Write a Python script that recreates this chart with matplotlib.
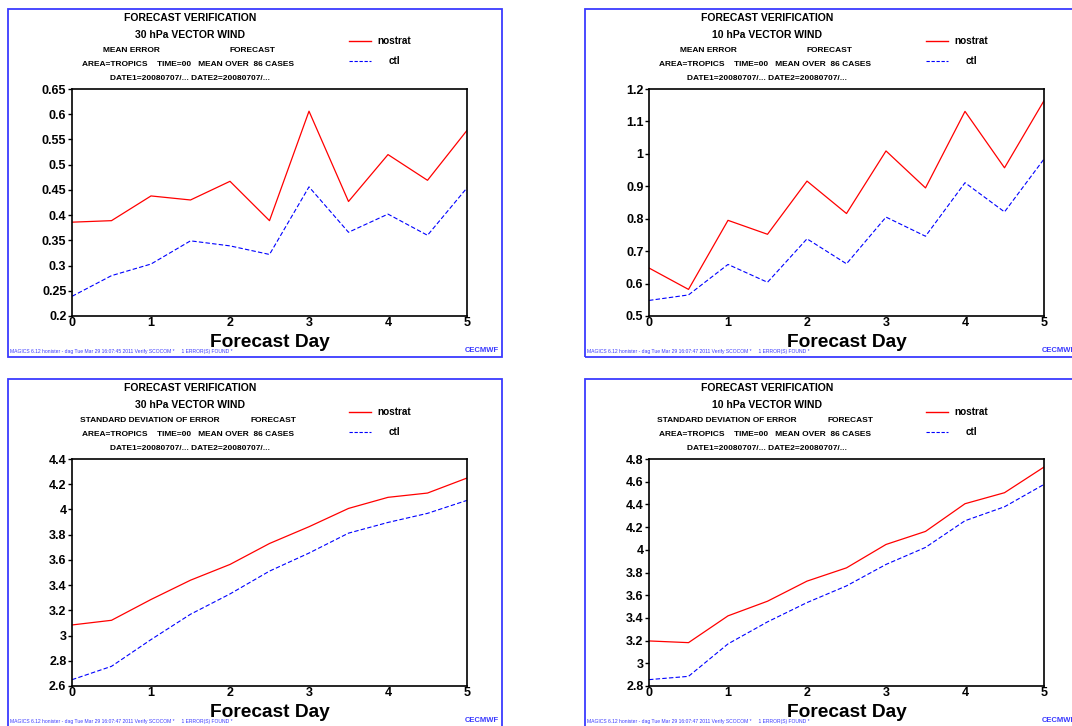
import matplotlib
matplotlib.use("Agg")
import matplotlib.pyplot as plt
from matplotlib.patches import Rectangle

plt.rcParams['font.family'] = ['Liberation Sans', 'DejaVu Sans']

W, H = 1072, 726

days = [0, 0.5, 1, 1.5, 2, 2.5, 3, 3.5, 4, 4.5, 5]
xticks = [0, 1, 2, 3, 4, 5]

# mean error, 30 hPa
me30_nostrat = [0.386, 0.389, 0.438, 0.430, 0.467, 0.389, 0.606, 0.427, 0.520, 0.469, 0.568]
me30_ctl = [0.239, 0.280, 0.303, 0.349, 0.339, 0.322, 0.456, 0.366, 0.402, 0.360, 0.454]
me30_yticks = [0.2, 0.25, 0.3, 0.35, 0.4, 0.45, 0.5, 0.55, 0.6, 0.65]

# mean error, 10 hPa
me10_nostrat = [0.648, 0.582, 0.795, 0.752, 0.916, 0.816, 1.009, 0.895, 1.131, 0.957, 1.164]
me10_ctl = [0.548, 0.565, 0.659, 0.604, 0.738, 0.661, 0.805, 0.746, 0.911, 0.821, 0.984]
me10_yticks = [0.5, 0.6, 0.7, 0.8, 0.9, 1, 1.1, 1.2]

# standard deviation of error, 30 hPa
sd30_nostrat = [3.084, 3.121, 3.286, 3.439, 3.564, 3.730, 3.863, 4.008, 4.096, 4.130, 4.249]
sd30_ctl = [2.650, 2.756, 2.968, 3.169, 3.330, 3.511, 3.654, 3.812, 3.897, 3.969, 4.072]
sd30_yticks = [2.6, 2.8, 3, 3.2, 3.4, 3.6, 3.8, 4, 4.2, 4.4]

# standard deviation of error, 10 hPa
sd10_nostrat = [3.197, 3.182, 3.418, 3.547, 3.724, 3.841, 4.047, 4.162, 4.406, 4.503, 4.729]
sd10_ctl = [2.856, 2.885, 3.171, 3.365, 3.535, 3.682, 3.871, 4.021, 4.256, 4.379, 4.576]
sd10_yticks = [2.8, 3, 3.2, 3.4, 3.6, 3.8, 4, 4.2, 4.4, 4.6, 4.8]

panels = [
    (0, 0, "30 hPa VECTOR WIND", "MEAN ERROR", me30_nostrat, me30_ctl, me30_yticks, "16:07:45"),
    (577, 0, "10 hPa VECTOR WIND", "MEAN ERROR", me10_nostrat, me10_ctl, me10_yticks, "16:07:47"),
    (0, 370, "30 hPa VECTOR WIND", "STANDARD DEVIATION OF ERROR", sd30_nostrat, sd30_ctl, sd30_yticks, "16:07:47"),
    (577, 370, "10 hPa VECTOR WIND", "STANDARD DEVIATION OF ERROR", sd10_nostrat, sd10_ctl, sd10_yticks, "16:07:47"),
]

fig = plt.figure(figsize=(W / 100, H / 100), dpi=100)
BLUE = '#3a3aff'


def fx(x):
    return x / W


def fy(y):
    return 1 - y / H


def txt(x, y, s, size, **kw):
    kw.setdefault('ha', 'center')
    kw.setdefault('va', 'center')
    fig.text(fx(x), fy(y), s, fontsize=size, **kw)


for ox, oy, level, stat, nostrat, ctl, yticks, stamp in panels:
    # blue page frame
    fig.patches.append(Rectangle((fx(ox + 8), fy(oy + 357)), 494 / W, 348 / H,
                                 transform=fig.transFigure, fill=False,
                                 edgecolor=BLUE, lw=1.3))

    # header
    txt(ox + 190, oy + 18, "FORECAST VERIFICATION", 7.5, fontweight='bold')
    txt(ox + 190, oy + 35, level, 7.5, fontweight='bold')
    if stat == "MEAN ERROR":
        txt(ox + 131, oy + 50, stat, 6, fontweight='bold')
        txt(ox + 252, oy + 50, "FORECAST", 6, fontweight='bold')
    else:
        txt(ox + 150, oy + 51, stat, 6, fontweight='bold')
        txt(ox + 273, oy + 51, "FORECAST", 6, fontweight='bold')
    txt(ox + 188, oy + 64, "AREA=TROPICS    TIME=00   MEAN OVER  86 CASES", 6, fontweight='bold')
    txt(ox + 190, oy + 79, "DATE1=20080707/... DATE2=20080707/...", 6, fontweight='bold')

    # legend
    ly1 = oy + 41 if oy == 0 else oy + 42
    ly2 = ly1 + 20
    fig.lines.append(plt.Line2D([fx(ox + 349), fx(ox + 371)], [fy(ly1), fy(ly1)],
                                transform=fig.transFigure, color='red', lw=1))
    fig.lines.append(plt.Line2D([fx(ox + 349), fx(ox + 371)], [fy(ly2), fy(ly2)],
                                transform=fig.transFigure, color='blue', lw=0.8,
                                linestyle=(0, (3, 1.5))))
    txt(ox + 394, ly1, "nostrat", 7.2, fontweight='bold')
    txt(ox + 394, ly2, "ctl", 7.2, fontweight='bold')

    # plot area
    ax = fig.add_axes([fx(ox + 72), fy(oy + 316), 395 / W, 227 / H])
    ax.plot(days, nostrat, color='red', lw=0.9)
    ax.plot(days, ctl, color='blue', lw=0.8, linestyle=(0, (4, 2)))
    ax.set_xlim(0, 5)
    ax.set_ylim(yticks[0], yticks[-1])
    ax.set_xticks(xticks)
    ax.set_xticklabels([str(t) for t in xticks])
    ax.set_yticks(yticks)
    ax.set_yticklabels(['%g' % t for t in yticks])
    for side in ax.spines.values():
        side.set_linewidth(1.2)
    ax.tick_params(axis='y', direction='out', length=3, width=1, pad=1, labelsize=9)
    ax.tick_params(axis='x', length=0, pad=1, labelsize=9)
    for lab in ax.get_xticklabels() + ax.get_yticklabels():
        lab.set_fontweight('bold')
    ax.set_xlabel("Forecast Day", fontsize=13.8, fontweight='bold', labelpad=3.5)

    # footer
    txt(ox + 10, oy + 351, "MAGICS 6.12 honister - dag Tue Mar 29 %s 2011 Verify SCOCOM *     1 ERROR(S) FOUND *" % stamp,
        3.6, ha='left', color=BLUE)
    txt(ox + 499, oy + 350, "CECMWF", 5.5, ha='right', color=BLUE, fontweight='heavy')

fig.savefig("out.png", dpi=100)
